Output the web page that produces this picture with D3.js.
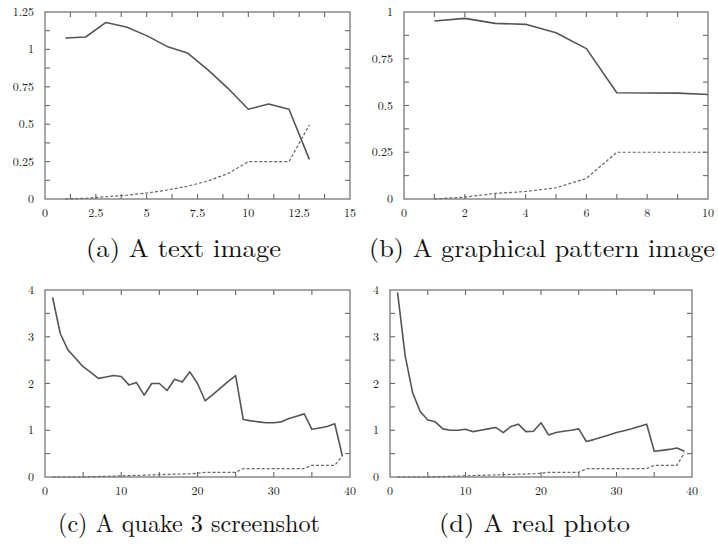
<!DOCTYPE html>
<html>
<head>
<meta charset="utf-8">
<script src="https://cdn.jsdelivr.net/npm/d3@7"></script>
<style>
  html, body { margin: 0; padding: 0; background: #fff; }
  svg { display: block; }
</style>
</head>
<body>
<svg id="chart" width="718" height="547"></svg>
<script>
// ---------- DATA ----------
const xA = [1,2,3,4,5,6,7,8,9,10,11,12,13];
const solidA = [1.076,1.083,1.18,1.15,1.092,1.02,0.976,0.865,0.74,0.60,0.635,0.60,0.265];
const dashA  = [0.0,0.005,0.015,0.025,0.04,0.06,0.085,0.12,0.17,0.25,0.25,0.25,0.495];

const xB = [1,2,3,4,5,6,7,8,9,10];
const solidB = [0.952,0.966,0.939,0.934,0.889,0.804,0.568,0.567,0.566,0.559];
const dashB  = [0.0,0.01,0.03,0.04,0.06,0.11,0.25,0.25,0.25,0.25];

const xCD = [1,2,3,4,5,6,7,8,9,10,11,12,13,14,15,16,17,18,19,20,21,22,23,24,25,26,27,28,29,30,31,32,33,34,35,36,37,38,39];
const solidC = [3.84,3.07,2.72,2.54,2.36,2.24,2.11,2.14,2.17,2.15,1.97,2.02,1.75,2.0,2.0,1.85,2.09,2.03,2.25,2.0,1.63,1.76,1.9,2.04,2.17,1.23,1.2,1.18,1.16,1.16,1.18,1.25,1.3,1.35,1.02,1.05,1.08,1.14,0.45];
const dashC  = [0,0,0,0,0,0.005,0.01,0.015,0.02,0.025,0.03,0.035,0.04,0.045,0.05,0.055,0.06,0.065,0.07,0.08,0.1,0.1,0.1,0.1,0.1,0.18,0.18,0.18,0.18,0.18,0.18,0.18,0.18,0.18,0.25,0.25,0.25,0.25,0.45];
const solidD = [3.95,2.6,1.8,1.4,1.22,1.18,1.03,1.0,1.0,1.02,0.97,1.0,1.03,1.06,0.95,1.08,1.13,0.97,0.98,1.16,0.9,0.95,0.98,1.0,1.03,0.76,0.8,0.85,0.9,0.95,0.99,1.03,1.08,1.13,0.55,0.57,0.59,0.62,0.55];
const dashD  = [0,0,0,0,0,0.005,0.01,0.015,0.02,0.025,0.03,0.035,0.04,0.045,0.05,0.055,0.06,0.065,0.07,0.08,0.1,0.1,0.1,0.1,0.1,0.18,0.18,0.18,0.18,0.18,0.18,0.18,0.18,0.18,0.25,0.25,0.25,0.25,0.52];

const xTicksA = [0,2.5,5,7.5,10,12.5,15];
const yTicksA = [0,0.25,0.5,0.75,1,1.25];
const xTicksB = [0,2,4,6,8,10];
const yTicksB = [0,0.25,0.5,0.75,1];
const xTicksCD = [0,10,20,30,40];
const yTicksCD = [0,1,2,3,4];

const captions = ["(a) A text image","(b) A graphical pattern image","(c) A quake 3 screenshot","(d) A real photo"];

// ---------- LAYOUT ----------
const panels = [
  {x:xA, s:solidA, d:dashA, xd:[0,15], yd:[0,1.25], xt:xTicksA, yt:yTicksA, xm:1.25, ym:0.125,
   left:45, right:350, top:12, bottom:199, cap:captions[0], capX:183.5, capY:257, capW:195},
  {x:xB, s:solidB, d:dashB, xd:[0,10], yd:[0,1], xt:xTicksB, yt:yTicksB, xm:1, ym:0.125,
   left:404, right:708, top:12, bottom:199, cap:captions[1], capX:542, capY:257, capW:346},
  {x:xCD, s:solidC, d:dashC, xd:[0,40], yd:[0,4], xt:xTicksCD, yt:yTicksCD, xm:5, ym:0.5,
   left:45, right:350, top:290, bottom:477, cap:captions[2], capX:189, capY:532, capW:262},
  {x:xCD, s:solidD, d:dashD, xd:[0,40], yd:[0,4], xt:xTicksCD, yt:yTicksCD, xm:5, ym:0.5,
   left:390, right:692, top:290, bottom:477, cap:captions[3], capX:534.5, capY:532, capW:191}
];

const svg = d3.select("#chart");
const FONT = "Latin Modern Roman, CMU Serif, DejaVu Serif, serif";
const frameColor = "#777";
const tickLen = 5;

panels.forEach(p => {
  const xs = d3.scaleLinear().domain(p.xd).range([p.left, p.right]);
  const ys = d3.scaleLinear().domain(p.yd).range([p.bottom, p.top]);
  const g = svg.append("g");

  const nx = Math.round((p.xd[1] - p.xd[0]) / p.xm);
  const ny = Math.round((p.yd[1] - p.yd[0]) / p.ym);
  const xAll = d3.range(1, nx).map(i => p.xd[0] + i * p.xm);
  const yAll = d3.range(1, ny).map(i => p.yd[0] + i * p.ym);

  // inward ticks on all four sides
  const tg = g.append("g").attr("stroke", "#666").attr("stroke-width", 1.1);
  xAll.forEach(v => {
    tg.append("line").attr("x1", xs(v)).attr("x2", xs(v)).attr("y1", p.bottom).attr("y2", p.bottom - tickLen);
    tg.append("line").attr("x1", xs(v)).attr("x2", xs(v)).attr("y1", p.top).attr("y2", p.top + tickLen);
  });
  yAll.forEach(v => {
    tg.append("line").attr("x1", p.left).attr("x2", p.left + tickLen).attr("y1", ys(v)).attr("y2", ys(v));
    tg.append("line").attr("x1", p.right).attr("x2", p.right - tickLen).attr("y1", ys(v)).attr("y2", ys(v));
  });

  g.selectAll("text.xl").data(p.xt).join("text")
    .attr("class", "xl")
    .attr("x", d => xs(d)).attr("y", p.bottom + 18)
    .attr("text-anchor", "middle")
    .attr("font-family", FONT).attr("font-size", 12).attr("fill", "#222")
    .text(d => String(d));
  g.selectAll("text.yl").data(p.yt).join("text")
    .attr("class", "yl")
    .attr("x", p.left - 11).attr("y", d => ys(d) + 4)
    .attr("text-anchor", "end")
    .attr("font-family", FONT).attr("font-size", 12).attr("fill", "#222")
    .text(d => String(d));

  g.append("rect")
    .attr("x", p.left).attr("y", p.top)
    .attr("width", p.right - p.left).attr("height", p.bottom - p.top)
    .attr("fill", "none").attr("stroke", frameColor).attr("stroke-width", 1.3);

  const line = d3.line().x(d => xs(d[0])).y(d => ys(d[1]));
  g.append("path")
    .attr("d", line(p.x.map((v, i) => [v, p.d[i]])))
    .attr("fill", "none").attr("stroke", "#666").attr("stroke-width", 1.2)
    .attr("stroke-dasharray", "3,2");
  g.append("path")
    .attr("d", line(p.x.map((v, i) => [v, p.s[i]])))
    .attr("fill", "none").attr("stroke", "#555").attr("stroke-width", 1.6)
    .attr("stroke-linejoin", "round");

  svg.append("text")
    .attr("x", p.capX).attr("y", p.capY)
    .attr("text-anchor", "middle")
    .attr("font-family", FONT).attr("font-size", 25).attr("fill", "#111")
    .attr("textLength", p.capW).attr("lengthAdjust", "spacingAndGlyphs")
    .text(p.cap);
});
</script>
</body>
</html>
